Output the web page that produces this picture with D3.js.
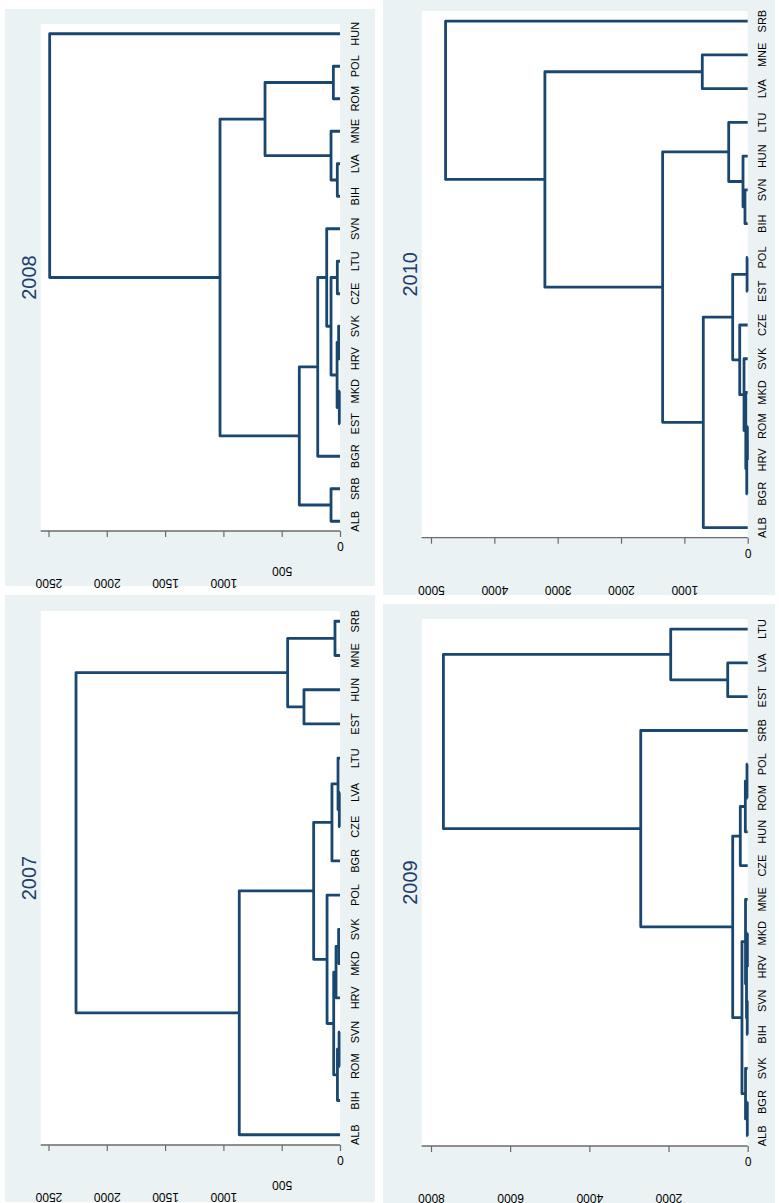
<!DOCTYPE html>
<html>
<head>
<meta charset="utf-8">
<script src="https://cdn.jsdelivr.net/npm/d3@7"></script>
<style>
  body { margin: 0; background: #fff; }
  svg { display: block; font-family: "Liberation Sans", Arial, sans-serif; }
</style>
</head>
<body>
<svg id="chart" width="779" height="1203"></svg>
<script>
// leaf order top to bottom, merges are [left, right, height]; "#n" points to the n-th merge
const leaves2008 = ['HUN','POL','ROM','MNE','LVA','BIH','SVN','LTU','CZE','SVK','HRV','MKD','EST','BGR','SRB','ALB'];
const merges2008 = [
  ['POL','ROM',57], ['LVA','BIH',23], ['MNE','#1',77], ['#0','#2',643],
  ['LTU','CZE',23], ['SVK','HRV',12], ['MKD','EST',6], ['#5','#6',25],
  ['#4','#7',77], ['SVN','#8',114], ['#9','BGR',191], ['SRB','ALB',77],
  ['#10','#11',349], ['#3','#12',1029], ['HUN','#13',2490]
];
const ticks2008 = [0, 500, 1000, 1500, 2000, 2500];

const leaves2007 = ['SRB','MNE','HUN','EST','LTU','LVA','CZE','BGR','POL','SVK','MKD','HRV','SVN','ROM','BIH','ALB'];
const merges2007 = [
  ['SRB','MNE',43], ['HUN','EST',309], ['#0','#1',449], ['LVA','CZE',6],
  ['LTU','#3',17], ['#4','BGR',69], ['SVK','MKD',12], ['#6','HRV',34],
  ['SVN','ROM',8], ['#8','BIH',22], ['#7','#9',54], ['POL','#10',111],
  ['#5','#11',226], ['#12','ALB',864], ['#2','#13',2264]
];
const ticks2007 = [0, 500, 1000, 1500, 2000, 2500];

const leaves2010 = ['SRB','MNE','LVA','LTU','HUN','SVN','BIH','POL','EST','CZE','SVK','MKD','ROM','HRV','BGR','ALB'];
const merges2010 = [
  ['MNE','LVA',717], ['SVN','BIH',43], ['HUN','#1',74], ['LTU','#2',300],
  ['POL','EST',10], ['ROM','HRV',5], ['#5','BGR',15], ['MKD','#6',30],
  ['SVK','#7',58], ['CZE','#8',126], ['#4','#9',237], ['#10','ALB',701],
  ['#3','#11',1343], ['#0','#12',3202], ['SRB','#13',4770]
];
const ticks2010 = [0, 1000, 2000, 3000, 4000, 5000];

const leaves2009 = ['LTU','LVA','EST','SRB','POL','ROM','HUN','CZE','MNE','MKD','HRV','SVN','BIH','SVK','BGR','ALB'];
const merges2009 = [
  ['LVA','EST',505], ['LTU','#0',1945], ['POL','ROM',18], ['#2','HUN',60],
  ['#3','CZE',187], ['MKD','HRV',8], ['SVN','BIH',12], ['#5','#6',30],
  ['MNE','#7',55], ['BGR','ALB',10], ['SVK','#9',55], ['#8','#10',145],
  ['#4','#11',379], ['SRB','#12',2702], ['#1','#13',7687]
];
const ticks2009 = [0, 2000, 4000, 6000, 8000];

const svg = d3.select('#chart');

const panels = [
  {title: '2008', leaves: leaves2008, merges: merges2008, ticks: ticks2008,
   bg: [5, 9, 375, 586], plot: [40.7, 24, 340, 531], tickEnd: 48.5, titleX: 28.5},
  {title: '2007', leaves: leaves2007, merges: merges2007, ticks: ticks2007,
   bg: [5, 595, 375, 1202], plot: [40.7, 611, 340, 1145], tickEnd: 48.5, titleX: 28.5},
  {title: '2010', leaves: leaves2010, merges: merges2010, ticks: ticks2010,
   bg: [383, 0, 775, 595], plot: [421.7, 11, 747.7, 537.7], tickEnd: 431, titleX: 410},
  {title: '2009', leaves: leaves2009, merges: merges2009, ticks: ticks2009,
   bg: [383, 604, 775, 1203], plot: [421.7, 619, 747.7, 1146], tickEnd: 431, titleX: 410}
];

function render(p) {
  const [bx0, by0, bx1, by1] = p.bg;
  const [px0, py0, px1, py1] = p.plot;
  const g = svg.append('g');

  g.append('rect')
    .attr('x', bx0).attr('y', by0)
    .attr('width', bx1 - bx0).attr('height', by1 - by0)
    .attr('fill', '#eaf2f3');
  g.append('rect')
    .attr('x', px0).attr('y', py0)
    .attr('width', px1 - px0).attr('height', py1 - py0)
    .attr('fill', '#fff');

  const xScale = d3.scaleLinear()
    .domain([0, d3.max(p.ticks)])
    .range([px1, p.tickEnd]);
  const yScale = d3.scalePoint()
    .domain(p.leaves)
    .range([py0, py1])
    .padding(0.3);

  // node positions: leaves sit at height 0, a merge sits halfway between its children
  const pos = {};
  p.leaves.forEach(l => pos[l] = {y: yScale(l), h: 0});
  p.merges.forEach((m, i) => {
    pos['#' + i] = {y: (pos[m[0]].y + pos[m[1]].y) / 2, h: m[2]};
  });

  g.selectAll('path.link').data(p.merges)
    .enter().append('path')
      .attr('class', 'link')
      .attr('d', m => {
        const a = pos[m[0]], b = pos[m[1]];
        return `M${xScale(a.h)},${a.y}H${xScale(m[2])}V${b.y}H${xScale(b.h)}`;
      })
      .attr('fill', 'none')
      .attr('stroke', '#1a476f')
      .attr('stroke-width', 2.8)
      .attr('stroke-linejoin', 'round');

  // value axis along the bottom, labels turned upside down like the original
  const xAxis = d3.axisBottom(xScale)
    .tickValues(p.ticks)
    .tickFormat(d3.format('d'))
    .tickSize(6)
    .tickSizeOuter(0);
  const xAxisG = g.append('g')
    .attr('transform', `translate(0,${py1})`)
    .call(xAxis);
  xAxisG.select('.domain').remove();
  xAxisG.append('line')
    .attr('x1', px0).attr('x2', px1)
    .attr('stroke', '#6b6b6b').attr('stroke-width', 1.3);
  xAxisG.selectAll('.tick line').attr('stroke', '#6b6b6b').attr('stroke-width', 1.2);
  xAxisG.selectAll('.tick text')
    .attr('y', null).attr('dy', null)
    .attr('fill', '#000')
    .attr('font-size', 12)
    .attr('font-family', '"Liberation Sans", Arial, sans-serif')
    .attr('text-anchor', 'middle')
    .attr('dominant-baseline', 'central')
    .attr('transform', d => `translate(0,${3 + 12.3 * String(d).length}) rotate(180)`);

  // country labels
  g.selectAll('text.leaf').data(p.leaves)
    .enter().append('text')
      .attr('class', 'leaf')
      .attr('transform', d => `translate(${px1 + 14.5},${yScale(d)}) rotate(-90)`)
      .attr('text-anchor', 'middle')
      .attr('dominant-baseline', 'central')
      .attr('font-size', 11)
      .attr('fill', '#000')
      .text(d => d);

  g.append('text')
    .attr('transform', `translate(${p.titleX},${(py0 + py1) / 2}) rotate(-90)`)
    .attr('text-anchor', 'middle')
    .attr('dominant-baseline', 'central')
    .attr('font-size', 20)
    .attr('fill', '#1e3d6b')
    .text(p.title);
}

panels.forEach(render);
</script>
</body>
</html>
